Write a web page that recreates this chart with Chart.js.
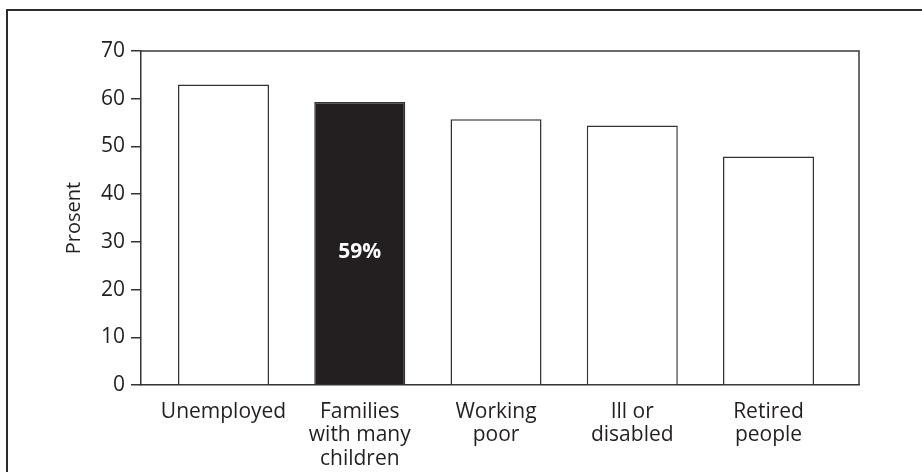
<!DOCTYPE html>
<html>
<head>
<meta charset="utf-8">
<script src="https://cdn.jsdelivr.net/npm/chart.js"></script>
<style>
  html, body { margin: 0; padding: 0; background: #fff; }
  #wrap { position: relative; width: 922px; height: 472px; overflow: hidden; }
  #frame {
    position: absolute; left: 6px; top: 9px; right: -4px; bottom: -4px;
    border-left: 2px solid #2b2b2b; border-top: 2px solid #2b2b2b;
  }
  canvas { position: absolute; left: 0; top: 0; }
</style>
</head>
<body>
<div id="wrap">
  <div id="frame"></div>
  <canvas id="chart" width="922" height="472"></canvas>
</div>
<script>
const categories = [
  ["Unemployed"],
  ["Families", "with many", "children"],
  ["Working", "poor"],
  ["Ill or", "disabled"],
  ["Retired", "people"],
];
const values = [63, 59.3, 55.7, 54.4, 47.9];
const yTicks = [0, 10, 20, 30, 40, 50, 60, 70];
const highlighted = 1;

const ink = "#231f20";
const font = "'Open Sans', 'Noto Sans', sans-serif";

const plotBox = {
  id: "plotBox",
  afterDraw(chart) {
    const { ctx, chartArea: a } = chart;
    ctx.save();
    ctx.strokeStyle = "#3a3a3a";
    ctx.lineWidth = 1.5;
    ctx.beginPath();
    ctx.moveTo(a.left, a.top);
    ctx.lineTo(a.right, a.top);
    ctx.lineTo(a.right, a.bottom);
    ctx.stroke();
    ctx.restore();
  },
};

const barLabel = {
  id: "barLabel",
  afterDatasetsDraw(chart) {
    const bar = chart.getDatasetMeta(0).data[highlighted];
    const { ctx } = chart;
    ctx.save();
    ctx.fillStyle = "#fff";
    ctx.font = "bold 21px " + font;
    ctx.textAlign = "center";
    ctx.textBaseline = "middle";
    ctx.fillText(Math.round(values[highlighted]) + "%", bar.x, (bar.y + bar.base) / 2 + 9);
    ctx.restore();
  },
};

new Chart(document.getElementById("chart"), {
  type: "bar",
  data: {
    datasets: [{
      data: values.map((v, i) => ({ x: i, y: v })),
      backgroundColor: values.map((_, i) => (i === highlighted ? ink : "#fff")),
      borderColor: "#333",
      borderWidth: 1.5,
      categoryPercentage: 1,
      barPercentage: 0.668,
    }],
  },
  options: {
    responsive: false,
    animation: false,
    layout: { padding: { left: 58, right: 63, top: 51, bottom: 7 } },
    plugins: { legend: { display: false }, tooltip: { enabled: false } },
    scales: {
      x: {
        type: "linear",
        offset: false,
        min: -0.6055,
        max: 4.664,
        afterBuildTicks: s => { s.ticks = categories.map((_, i) => ({ value: i })); },
        afterFit: s => { s.height = 80; },
        grid: { display: false },
        border: { display: true, color: "#333", width: 1.5 },
        ticks: {
          autoSkip: false,
          maxRotation: 0,
          padding: 7,
          color: ink,
          font: { family: font, size: 21, lineHeight: 1.12 },
          callback: v => categories[v],
        },
      },
      y: {
        min: 0,
        max: 70,
        afterBuildTicks: s => { s.ticks = yTicks.map(v => ({ value: v })); },
        afterFit: s => { s.width = 83; },
        grid: { drawOnChartArea: false, drawTicks: true, tickLength: 10, color: "#333", lineWidth: 1.5 },
        border: { display: true, color: "#333", width: 1.5 },
        ticks: {
          padding: 6,
          color: ink,
          font: { family: font, size: 21 },
        },
        title: {
          display: true,
          text: "Prosent",
          color: ink,
          font: { family: font, size: 20 },
          padding: { top: 4, bottom: 4 },
        },
      },
    },
  },
  plugins: [plotBox, barLabel],
});
</script>
</body>
</html>
